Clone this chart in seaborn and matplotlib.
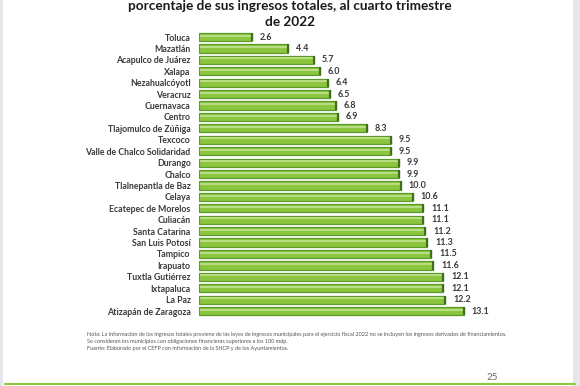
import matplotlib

matplotlib.use("Agg")

import matplotlib.pyplot as plt
import pandas as pd
import seaborn as sns

municipios = [
    "Toluca", "Mazatlán", "Acapulco de Juárez", "Xalapa", "Nezahualcóyotl",
    "Veracruz", "Cuernavaca", "Centro", "Tlajomulco de Zúñiga", "Texcoco",
    "Valle de Chalco Solidaridad", "Durango", "Chalco", "Tlalnepantla de Baz",
    "Celaya", "Ecatepec de Morelos", "Culiacán", "Santa Catarina",
    "San Luis Potosí", "Tampico", "Irapuato", "Tuxtla Gutiérrez",
    "Ixtapaluca", "La Paz", "Atizapán de Zaragoza",
]
porcentajes = [
    2.6, 4.4, 5.7, 6.0, 6.4, 6.5, 6.8, 6.9, 8.3, 9.5, 9.5, 9.9, 9.9, 10.0,
    10.6, 11.1, 11.1, 11.2, 11.3, 11.5, 11.6, 12.1, 12.1, 12.2, 13.1,
]

titulo = "porcentaje de sus ingresos totales, al cuarto trimestre\nde 2022"
nota = (
    "Nota: La información de los ingresos totales proviene de las leyes de ingresos municipales "
    "para el ejercicio fiscal 2022 no se incluyen los ingresos derivados de financiamientos.\n"
    "Se consideran los municipios con obligaciones financieras superiores a los 100 mdp.\n"
    "Fuente: Elaborado por el CEFP con información de la SHCP y de los Ayuntamientos."
)
pagina = "25"

df = pd.DataFrame({"municipio": municipios, "porcentaje": porcentajes})

sns.set_style("white")
plt.rcParams["font.family"] = ["Lato", "DejaVu Sans"]

W, H = 580, 386
fig = plt.figure(figsize=(W / 100, H / 100), dpi=100)
fig.patch.set_facecolor("white")

n = len(municipios)
row = 11.42
top_px = 37 - row / 2
bottom_px = top_px + n * row
left_px, right_px = 199, 199 + 20.2 * 14
ax = fig.add_axes([left_px / W, 1 - bottom_px / H,
                   (right_px - left_px) / W, (bottom_px - top_px) / H])

sns.barplot(data=df, x="porcentaje", y="municipio", orient="h",
            color="#8cc63f", edgecolor="#5b9a2b", linewidth=0.9,
            width=0.72, saturation=1, ax=ax)
# thin highlight stripe and dark end cap on each bar
for i, v in enumerate(porcentajes):
    ax.hlines(i - 0.12, 0.05, v - 0.05, color="#c7e59a", linewidth=1.1)
    ax.vlines(v, i - 0.36, i + 0.36, color="#3f6f1c", linewidth=1.6)

ax.set_xlim(0, 14)
ax.set_ylim(n - 0.5, -0.5)
for i, v in enumerate(porcentajes):
    ax.text(v + 0.38, i, f"{v:.1f}", va="center", ha="left",
            fontsize=6.4, fontweight="bold", color="#3a3a3a")

ax.set_xlabel("")
ax.set_ylabel("")
ax.set_xticks([])
ax.tick_params(axis="y", length=0, pad=6)
for lbl in ax.get_yticklabels():
    lbl.set_fontsize(6.3)
    lbl.set_fontweight("bold")
    lbl.set_color("#3a3a3a")
sns.despine(ax=ax, left=True, bottom=True)

fig.text(290 / W, 1 - 28 / H, titulo, ha="center", va="bottom",
         fontsize=9.8, fontweight="bold", color="#1a1a1a", linespacing=1.4)

fig.text(87 / W, 1 - 332 / H, nota, ha="left", va="top",
         fontsize=4.0, color="#555555", linespacing=1.5)
fig.text(492 / W, 1 - 378 / H, pagina, ha="center", va="center",
         fontsize=7, color="#666666")

fig.add_artist(plt.Line2D([5 / W, 575 / W], [1 - 383.5 / H] * 2,
                          color="#8cc63f", linewidth=1.5))
fig.add_artist(plt.Rectangle((0, 0), 3 / W, 1, color="#e6e6ea", lw=0))
fig.add_artist(plt.Rectangle((573 / W, 0), 7 / W, 1, color="#e6e6ea", lw=0))

fig.savefig("out.png", dpi=100)
